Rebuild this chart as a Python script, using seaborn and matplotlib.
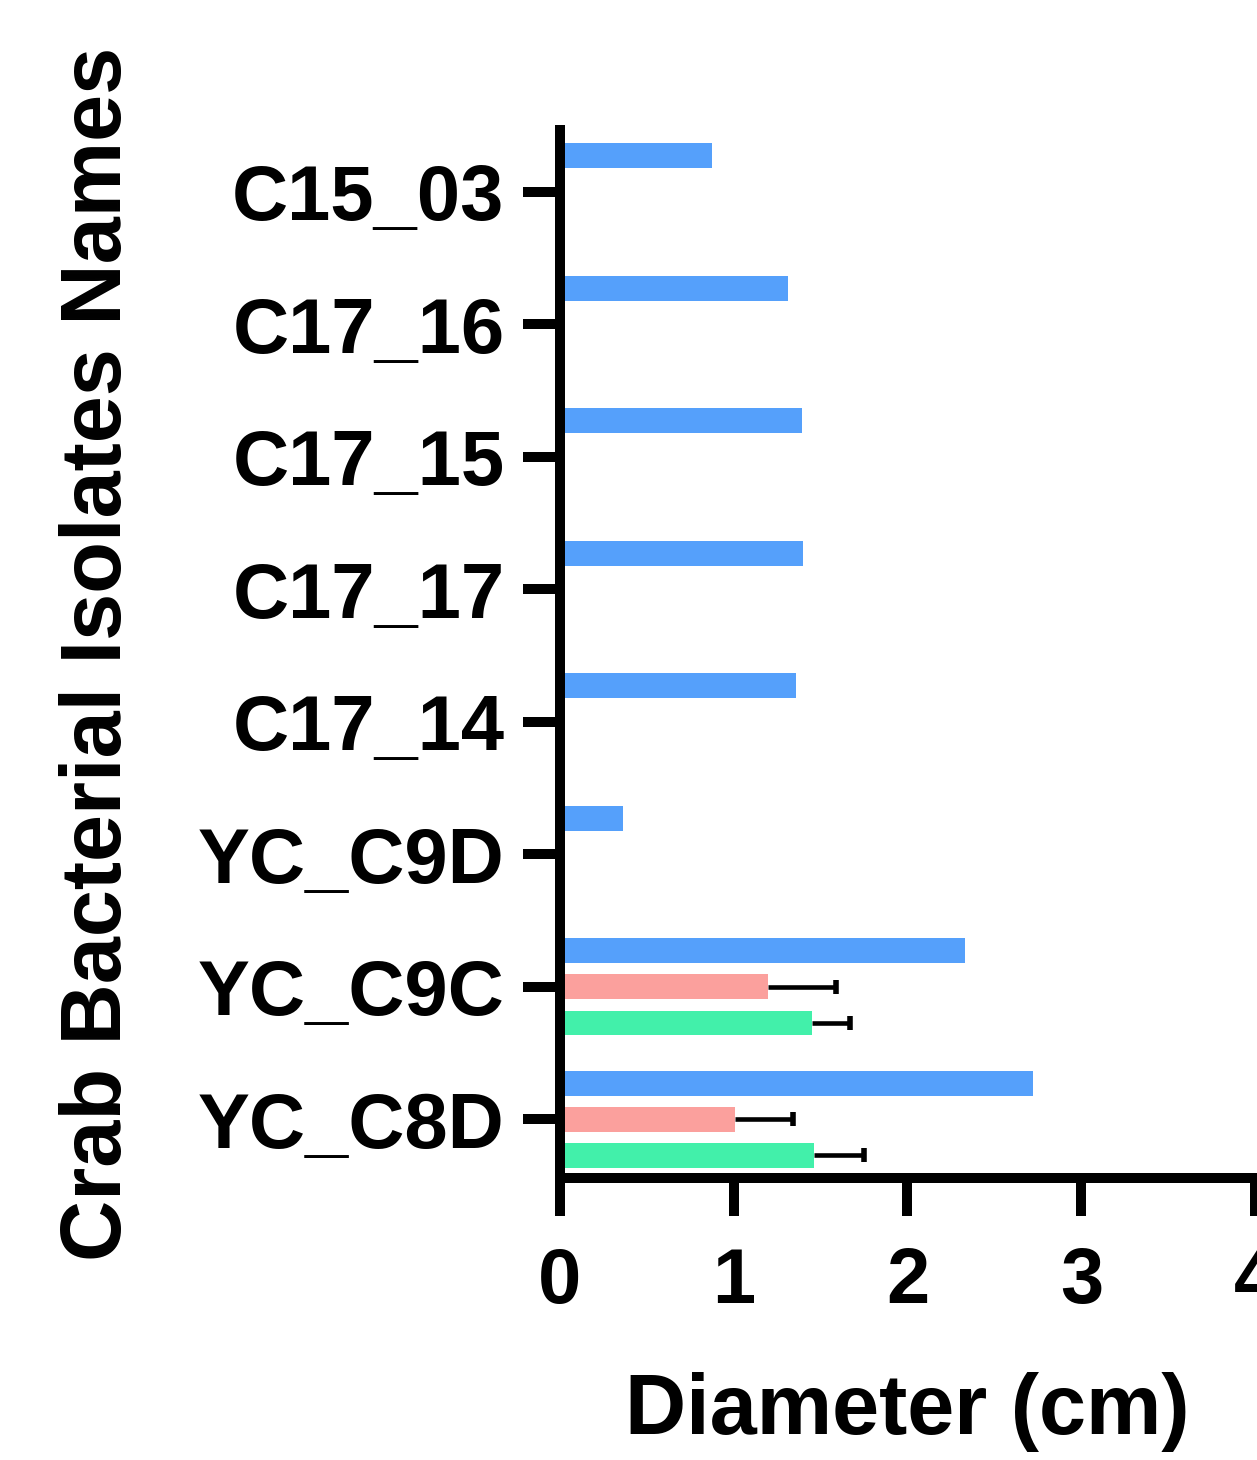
import matplotlib
matplotlib.use('Agg')  # headless

import matplotlib.pyplot as plt
import seaborn as sns
import numpy as np
import pandas as pd

# Data
isolates = ["C15_03", "C17_16", "C17_15", "C17_17", "C17_14", "YC_C9D", "YC_C9C", "YC_C8D"]
series = ["A", "B", "C"]
series_a = [0.875, 1.31, 1.39, 1.40, 1.36, 0.36, 2.33, 2.72]
series_b = [np.nan, np.nan, np.nan, np.nan, np.nan, np.nan, 1.20, 1.01]
series_c = [np.nan, np.nan, np.nan, np.nan, np.nan, np.nan, 1.45, 1.46]
err_b = [np.nan, np.nan, np.nan, np.nan, np.nan, np.nan, 0.39, 0.33]
err_c = [np.nan, np.nan, np.nan, np.nan, np.nan, np.nan, 0.22, 0.29]
colors = ["#55A0FB", "#FBA09D", "#42F0AA"]

# Long table for seaborn
rows = []
for name, vals, errs in [("A", series_a, [np.nan] * len(isolates)),
                         ("B", series_b, err_b),
                         ("C", series_c, err_c)]:
    for iso, v, e in zip(isolates, vals, errs):
        rows.append({"isolate": iso, "series": name, "value": v, "err": e})
df = pd.DataFrame(rows)

sns.set_style("ticks")
plt.rcParams['font.family'] = ['Liberation Sans', 'DejaVu Sans']
plt.rcParams['font.weight'] = 'bold'
plt.rcParams['text.color'] = 'black'
plt.rcParams['axes.labelcolor'] = 'black'
plt.rcParams['xtick.color'] = 'black'
plt.rcParams['ytick.color'] = 'black'

fig = plt.figure(figsize=(12.57, 14.60), dpi=100)
ax = fig.add_axes([0.4455, 0.193, 0.5529, 0.718])

sns.barplot(data=df.dropna(subset=["value"]), x="value", y="isolate", hue="series",
            order=isolates, hue_order=series, palette=colors, saturation=1,
            orient="h", errorbar=None, width=0.82, gap=0.31,
            linewidth=0, legend=False, ax=ax, zorder=2)

# One-sided error bars from the bar end, cap only at the outer end
err_lookup = {(r.isolate, r.series): r.err for r in df.itertuples()}
for container, name in zip(ax.containers, series):
    for bar in container:
        y = bar.get_y() + bar.get_height() / 2
        w = bar.get_width()
        if np.isnan(w):
            continue
        iso = isolates[int(round(y))]
        e = err_lookup.get((iso, name), np.nan)
        if not np.isnan(e):
            ax.hlines(y, w, w + e, colors="black", linewidth=3.3, zorder=3)
            ax.plot([w + e], [y], marker="|", markersize=10.5, markeredgewidth=4,
                    color="black", zorder=3)

ax.set_xlim(0, 4)
ax.set_ylim(7.445, -0.468)
ax.set_xticks([0, 1, 2, 3, 4])

for side in ["top", "right"]:
    ax.spines[side].set_visible(False)
for side in ["left", "bottom"]:
    ax.spines[side].set_linewidth(7.2)
    ax.spines[side].set_color("black")
    ax.spines[side].set_zorder(4)

ax.tick_params(axis="both", length=27, width=7.2, color="black", labelsize=56)
ax.tick_params(axis="y", pad=13)
ax.tick_params(axis="x", pad=22)
for lbl in ax.get_xticklabels() + ax.get_yticklabels():
    lbl.set_fontweight("bold")

ax.set_xlabel("Diameter (cm)", fontsize=61, fontweight="bold", labelpad=38)
ax.set_ylabel("Crab Bacterial Isolates Names", fontsize=61, fontweight="bold", labelpad=42)

fig.savefig("out.png", dpi=100)
